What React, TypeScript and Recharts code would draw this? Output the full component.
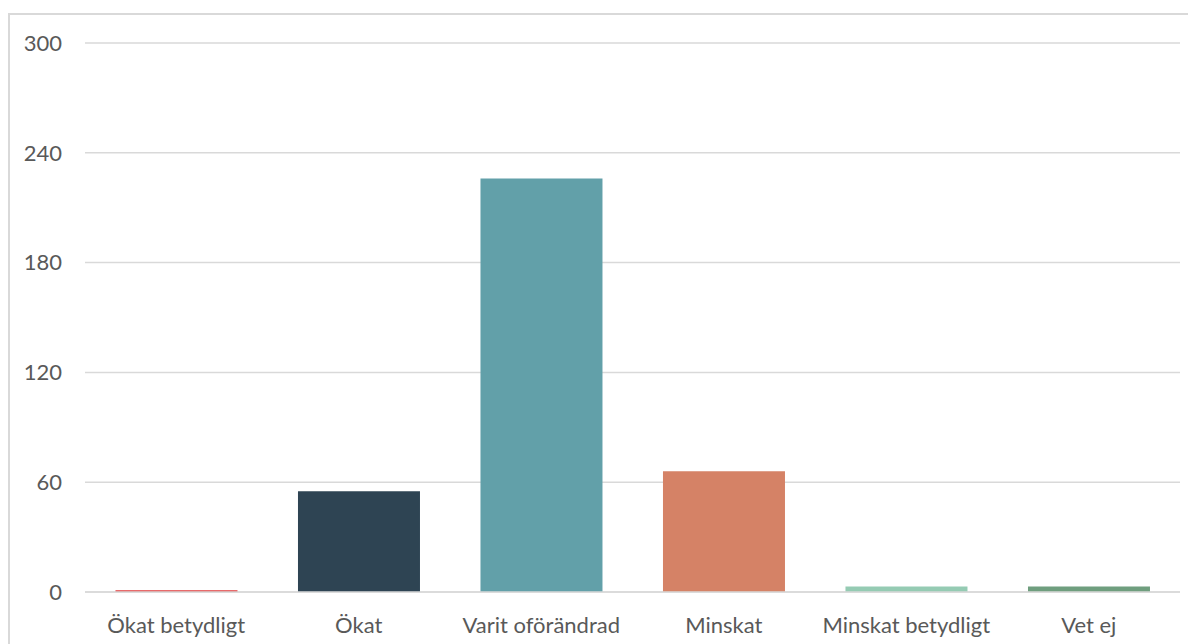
import { BarChart, Bar, XAxis, YAxis, CartesianGrid, Cell } from 'recharts'

const categories = ['Ökat betydligt', 'Ökat', 'Varit oförändrad', 'Minskat', 'Minskat betydligt', 'Vet ej']
const values = [1, 55, 226, 66, 3, 3]
const colors = ['#e0383a', '#2e4453', '#62a0a9', '#d58266', '#95cbb3', '#6f9e7e']
const yTicks = [0, 60, 120, 180, 240, 300]

const data = categories.map((name, i) => ({ name, value: values[i] }))

const tickStyle = { fontSize: 22, fill: '#595959', fontFamily: 'Lato, "Noto Sans", sans-serif' }

export default function App() {
  return (
    <div
      style={{
        marginTop: 5,
        width: 1196,
        height: 640,
        borderTop: '2px solid #d9d9d9',
        borderLeft: '2px solid #d9d9d9',
        boxSizing: 'border-box',
      }}
    >
      <BarChart
        width={1186}
        height={629}
        data={data}
        margin={{ top: 28, right: 16, left: 0, bottom: 0 }}
        barCategoryGap="16.7%"
      >
        <CartesianGrid vertical={false} stroke="#d9d9d9" strokeWidth={1.5} />
        <XAxis
          dataKey="name"
          tick={tickStyle}
          axisLine={{ stroke: '#d9d9d9', strokeWidth: 1.5 }}
          tickLine={false}
          tickSize={0}
          tickMargin={25}
          height={52}
          interval={0}
        />
        <YAxis
          domain={[0, 300]}
          ticks={yTicks}
          tick={tickStyle}
          axisLine={false}
          tickLine={false}
          tickSize={0}
          tickMargin={23}
          width={75}
        />
        <Bar dataKey="value" isAnimationActive={false}>
          {data.map((d, i) => (
            <Cell key={d.name} fill={colors[i]} />
          ))}
        </Bar>
      </BarChart>
    </div>
  )
}
